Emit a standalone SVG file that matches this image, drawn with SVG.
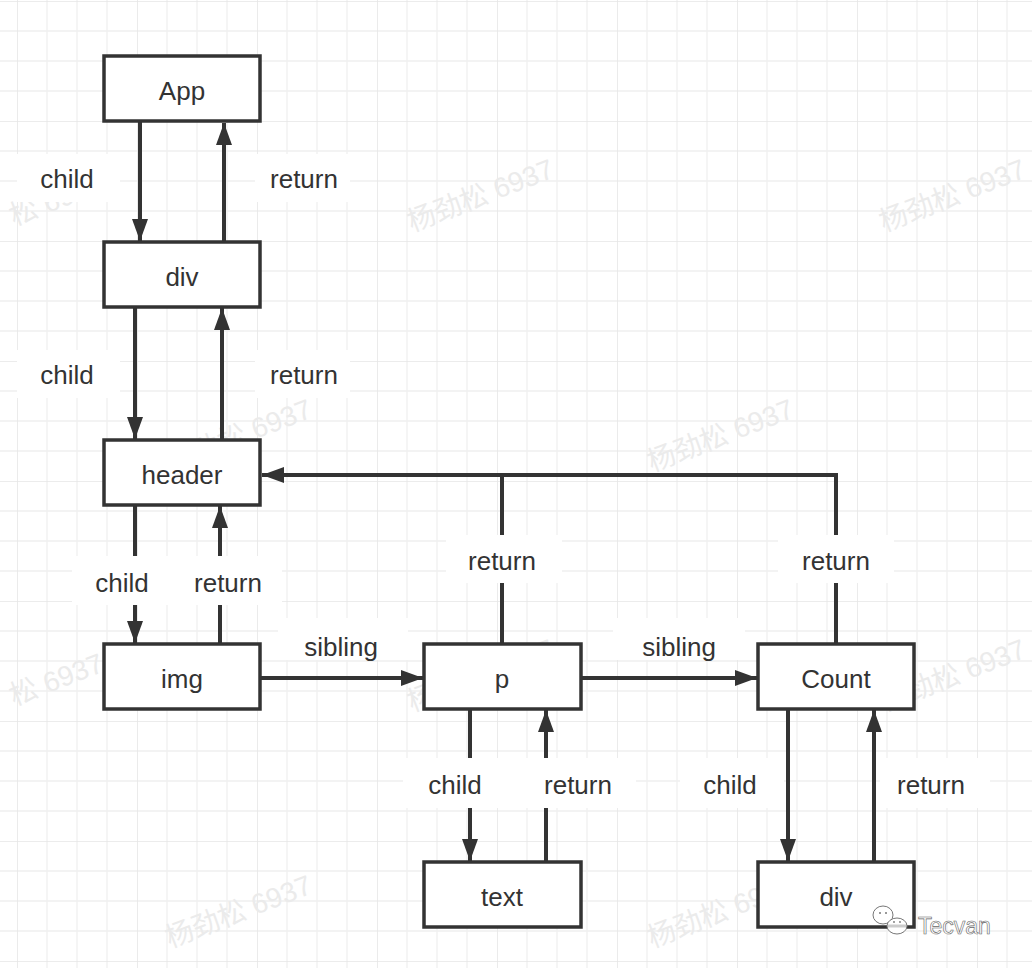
<svg xmlns="http://www.w3.org/2000/svg" width="1032" height="968" viewBox="0 0 1032 968">
<defs>
<style>
.minor{stroke:#f0f0f0;stroke-width:1.3;}
.major{stroke:#e6e6e6;stroke-width:1.6;}
.box{fill:#ffffff;stroke:#333333;stroke-width:3.5;}
.lbl{font-family:"Liberation Sans",Arial,sans-serif;font-size:26px;fill:#333333;text-anchor:middle;}
.conn{fill:none;stroke:#333333;stroke-width:4;}
.bg{fill:#ffffff;}
.wm{font-family:"Liberation Sans","Noto Sans CJK SC",sans-serif;font-size:28px;fill:#ebebeb;}
</style>
<marker id="arr" markerUnits="userSpaceOnUse" markerWidth="22" markerHeight="16" viewBox="0 0 22 16" refX="22" refY="8" orient="auto">
<path d="M0,0 L22,8 L0,16 z" fill="#333333"/>
</marker>
<pattern id="grid" patternUnits="userSpaceOnUse" x="17" y="1" width="120" height="120">
<path d="M0,30 H120 M0,60 H120 M0,90 H120 M30,0 V120 M60,0 V120 M90,0 V120" class="minor" fill="none"/>
<path d="M0,0 H120 M0,0 V120" class="major" fill="none"/>
</pattern>
</defs>
<rect width="1032" height="968" fill="#ffffff"/>
<g id="grid-bg">
<rect width="1032" height="968" fill="url(#grid)"/>
</g>
<g id="watermarks">
<text class="wm" transform="translate(412,232) rotate(-21)">杨劲松 6937</text>
<text class="wm" transform="translate(884,232) rotate(-21)">杨劲松 6937</text>
<text class="wm" transform="translate(14,226) rotate(-21)">松 6937</text>
<text class="wm" transform="translate(170,472) rotate(-21)">杨劲松 6937</text>
<text class="wm" transform="translate(652,472) rotate(-21)">杨劲松 6937</text>
<text class="wm" transform="translate(412,712) rotate(-21)">杨劲松 6937</text>
<text class="wm" transform="translate(884,712) rotate(-21)">杨劲松 6937</text>
<text class="wm" transform="translate(14,706) rotate(-21)">松 6937</text>
<text class="wm" transform="translate(170,948) rotate(-21)">杨劲松 6937</text>
<text class="wm" transform="translate(652,948) rotate(-21)">杨劲松 6937</text>
</g>
<g id="connectors">
<path class="conn" d="M140,122 V241" marker-end="url(#arr)"/>
<path class="conn" d="M224,241 V123" marker-end="url(#arr)"/>
<path class="conn" d="M135,307 V439" marker-end="url(#arr)"/>
<path class="conn" d="M222,440 V308" marker-end="url(#arr)"/>
<path class="conn" d="M135,505 V643" marker-end="url(#arr)"/>
<path class="conn" d="M220,644 V506" marker-end="url(#arr)"/>
<path class="conn" d="M260,678 H423" marker-end="url(#arr)"/>
<path class="conn" d="M581,678 H757" marker-end="url(#arr)"/>
<path class="conn" d="M502,644 V475 H262" marker-end="url(#arr)"/>
<path class="conn" d="M836,644 V475 H502"/>
<path class="conn" d="M470,709 V861" marker-end="url(#arr)"/>
<path class="conn" d="M546,862 V710" marker-end="url(#arr)"/>
<path class="conn" d="M788,709 V861" marker-end="url(#arr)"/>
<path class="conn" d="M874,862 V710" marker-end="url(#arr)"/>
</g>
<g id="labels">
<rect class="bg" x="17" y="154" width="103" height="48"/>
<text class="lbl" x="67" y="188">child</text>
<rect class="bg" x="255" y="154" width="95" height="48"/>
<text class="lbl" x="304" y="188">return</text>
<rect class="bg" x="17" y="350" width="103" height="48"/>
<text class="lbl" x="67" y="384">child</text>
<rect class="bg" x="255" y="350" width="95" height="48"/>
<text class="lbl" x="304" y="384">return</text>
<rect class="bg" x="72" y="556" width="210" height="49"/>
<text class="lbl" x="122" y="592">child</text>
<text class="lbl" x="228" y="592">return</text>
<rect class="bg" x="278" y="618" width="130" height="42"/>
<text class="lbl" x="341" y="656">sibling</text>
<rect class="bg" x="613" y="618" width="132" height="42"/>
<text class="lbl" x="679" y="656">sibling</text>
<rect class="bg" x="446" y="535" width="116" height="48"/>
<text class="lbl" x="502" y="570">return</text>
<rect class="bg" x="778" y="535" width="116" height="48"/>
<text class="lbl" x="836" y="570">return</text>
<rect class="bg" x="403" y="758" width="233" height="50"/>
<text class="lbl" x="455" y="794">child</text>
<text class="lbl" x="578" y="794">return</text>
<rect class="bg" x="680" y="758" width="104" height="50"/>
<text class="lbl" x="730" y="794">child</text>
<rect class="bg" x="880" y="758" width="110" height="50"/>
<text class="lbl" x="931" y="794">return</text>
</g>
<g id="node-app"><rect class="box" x="104" y="56" width="156" height="65"/><text class="lbl" x="182" y="100">App</text></g>
<g id="node-div"><rect class="box" x="104" y="242" width="156" height="65"/><text class="lbl" x="182" y="286">div</text></g>
<g id="node-header"><rect class="box" x="104" y="440" width="156" height="65"/><text class="lbl" x="182" y="484">header</text></g>
<g id="node-img"><rect class="box" x="104" y="644" width="156" height="65"/><text class="lbl" x="182" y="688">img</text></g>
<g id="node-p"><rect class="box" x="424" y="644" width="157" height="65"/><text class="lbl" x="502" y="688">p</text></g>
<g id="node-count"><rect class="box" x="758" y="644" width="156" height="65"/><text class="lbl" x="836" y="688">Count</text></g>
<g id="node-text"><rect class="box" x="424" y="862" width="157" height="65"/><text class="lbl" x="502" y="906">text</text></g>
<g id="node-div2"><rect class="box" x="758" y="862" width="156" height="65"/><text class="lbl" x="836" y="906">div</text></g>
<g id="logo">
<ellipse cx="883" cy="915" rx="10" ry="9" fill="#ffffff" stroke="#777777" stroke-width="1"/>
<ellipse cx="897" cy="926" rx="10" ry="8" fill="#ffffff" stroke="#777777" stroke-width="1"/>
<path d="M888,926 H906" stroke="#cccccc" stroke-width="3"/>
<circle cx="880" cy="913" r="1" fill="#777777"/><circle cx="886" cy="913" r="1" fill="#777777"/>
<circle cx="894" cy="922" r="0.9" fill="#777777"/><circle cx="900" cy="922" r="0.9" fill="#777777"/>
<text x="918" y="934" font-family="Liberation Sans,Arial,sans-serif" font-size="23" fill="#ffffff" stroke="#666666" stroke-width="0.6">Tecvan</text>
</g>
</svg>
